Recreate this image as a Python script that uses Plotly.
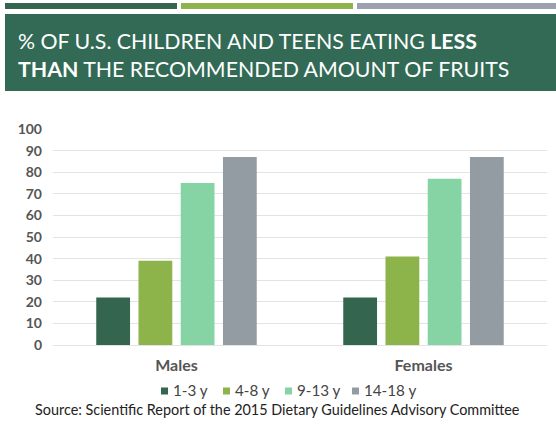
import plotly.graph_objects as go

categories = ["Males", "Females"]
age_groups = ["1-3 y", "4-8 y", "9-13 y", "14-18 y"]
values = {
    "1-3 y": [22, 22],
    "4-8 y": [39, 41],
    "9-13 y": [75, 77],
    "14-18 y": [87, 87],
}
colors = ["#33654F", "#8DB44A", "#86D3A4", "#949CA3"]
y_ticks = [0, 10, 20, 30, 40, 50, 60, 70, 80, 90, 100]
title_line1 = "% OF U.S. CHILDREN AND TEENS EATING <b>LESS</b>"
title_line2 = "<b>THAN</b> THE RECOMMENDED AMOUNT OF FRUITS"
source = "Source: Scientific Report of the 2015 Dietary Guidelines Advisory Committee"

W, H = 556, 426
L, R, T, B = 53, 9, 129, 81
PW, PH = W - L - R, H - T - B


def px(x):
    return (x - L) / PW


def py(y):
    return (H - B - y) / PH


FONT = "Lato"

fig = go.Figure()
for name, col in zip(age_groups, colors):
    fig.add_trace(go.Bar(x=categories, y=values[name], name=name,
                         marker=dict(color=col, line=dict(width=0))))

shapes = [
    dict(type="rect", xref="paper", yref="paper", x0=px(5), x1=px(177), y0=py(9), y1=py(3),
         fillcolor="#33654F", line=dict(width=0), layer="above"),
    dict(type="rect", xref="paper", yref="paper", x0=px(181), x1=px(353), y0=py(9), y1=py(3),
         fillcolor="#8DB44A", line=dict(width=0), layer="above"),
    dict(type="rect", xref="paper", yref="paper", x0=px(357), x1=px(557), y0=py(9), y1=py(3),
         fillcolor="#9CA1AE", line=dict(width=0), layer="above"),
    dict(type="rect", xref="paper", yref="paper", x0=px(5), x1=px(557), y0=py(91), y1=py(14),
         fillcolor="#326A55", line=dict(width=0), layer="above"),
]

annotations = [
    dict(text=title_line1, xref="paper", yref="paper", x=px(16), y=py(41), xanchor="left",
         yanchor="middle", showarrow=False, font=dict(family=FONT, size=21.3, color="white")),
    dict(text=title_line2, xref="paper", yref="paper", x=px(16), y=py(69), xanchor="left",
         yanchor="middle", showarrow=False, font=dict(family=FONT, size=21.3, color="white")),
    dict(text=source, xref="paper", yref="paper", x=px(277), y=py(409), xanchor="center",
         yanchor="middle", showarrow=False, font=dict(family=FONT, size=14.4, color="#222222")),
]

# custom legend (square swatch + label) laid out in a single row
legend_square_x = [161, 223, 285, 352]
legend_y = 391
for name, col, sx in zip(age_groups, colors, legend_square_x):
    shapes.append(dict(type="rect", xref="paper", yref="paper", x0=px(sx), x1=px(sx + 7),
                       y0=py(legend_y + 3.5), y1=py(legend_y - 3.5), fillcolor=col,
                       line=dict(width=0), layer="above"))
    annotations.append(dict(text=name, xref="paper", yref="paper", x=px(sx + 10), y=py(legend_y - 1),
                            xanchor="left", yanchor="middle", showarrow=False,
                            font=dict(family=FONT, size=15.2, color="#444444")))

fig.update_layout(
    width=W, height=H,
    margin=dict(l=L, r=R, t=T, b=B, pad=0),
    paper_bgcolor="white", plot_bgcolor="white",
    barmode="group", bargap=0.316, bargroupgap=0.2,
    shapes=shapes, annotations=annotations,
    showlegend=False,
    xaxis=dict(showgrid=False, showline=False, zeroline=False, ticks="",
               tickfont=dict(family=FONT, size=16, color="#555555", weight="bold"),
               ticklabelstandoff=9),
    yaxis=dict(range=[0, 100], tickvals=y_ticks, showgrid=True, gridcolor="#E3E3E3",
               gridwidth=1, zeroline=True, zerolinecolor="#E3E3E3", zerolinewidth=1,
               showline=False, ticks="",
               tickfont=dict(family=FONT, size=14, color="#555555", weight="bold"),
               ticklabelstandoff=10),
)

fig.write_html("out.html")
